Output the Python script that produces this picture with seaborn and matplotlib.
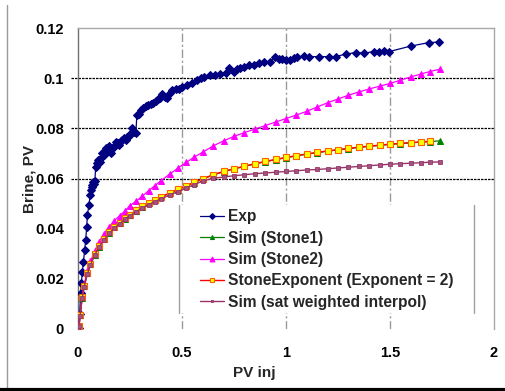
import numpy as np
import pandas as pd
import matplotlib
matplotlib.use("Agg")
import matplotlib.pyplot as plt
from matplotlib.lines import Line2D
from matplotlib.patches import Rectangle
from matplotlib.ticker import FormatStrFormatter
import seaborn as sns

# ---- measured brine production ----
exp_pv = [0, 0.005, 0.008, 0.013, 0.016, 0.021, 0.026, 0.032, 0.037, 0.042, 0.045,
          0.053, 0.058, 0.061, 0.066, 0.069, 0.074, 0.077, 0.081, 0.085, 0.090, 0.095,
          0.101, 0.108, 0.114, 0.120, 0.125, 0.133, 0.140, 0.145, 0.150, 0.157, 0.165,
          0.173, 0.181, 0.190, 0.198, 0.205, 0.213, 0.222, 0.230, 0.237, 0.245, 0.252,
          0.262, 0.270, 0.278, 0.283, 0.292, 0.302, 0.312, 0.326, 0.338, 0.350, 0.362,
          0.374, 0.385, 0.395, 0.406, 0.418, 0.430, 0.443, 0.454, 0.470, 0.485, 0.500,
          0.523, 0.548, 0.572, 0.590, 0.604, 0.636, 0.660, 0.684, 0.710, 0.724, 0.748,
          0.765, 0.780, 0.800, 0.820, 0.845, 0.870, 0.893, 0.925, 0.949, 0.968, 0.982,
          1.000, 1.020, 1.040, 1.054, 1.086, 1.110, 1.158, 1.206, 1.239, 1.287, 1.335,
          1.375, 1.423, 1.447, 1.471, 1.496, 1.600, 1.688, 1.736]
exp_brine = [0, 0.0004, 0.006, 0.0142, 0.0182, 0.0229, 0.0268, 0.0315, 0.0355, 0.0408, 0.0455,
             0.0494, 0.0534, 0.0555, 0.0575, 0.0567, 0.0587, 0.0580, 0.0590, 0.0647, 0.0660, 0.0672,
             0.0674, 0.0665, 0.0700, 0.0688, 0.0694, 0.0720, 0.0705, 0.0712, 0.0728, 0.0700, 0.0722,
             0.0727, 0.0747, 0.0740, 0.0734, 0.0750, 0.0754, 0.0760, 0.0755, 0.0767, 0.0770, 0.0778,
             0.0800, 0.0786, 0.0780, 0.0853, 0.0858, 0.0873, 0.0880, 0.0889, 0.0893, 0.0896, 0.0902,
             0.0907, 0.0915, 0.0922, 0.0935, 0.0926, 0.0920, 0.0940, 0.0953, 0.0955, 0.0958, 0.0963,
             0.0973, 0.0982, 0.0993, 0.1000, 0.1006, 0.1013, 0.1012, 0.1017, 0.1022, 0.1040, 0.1026,
             0.1035, 0.1040, 0.1046, 0.1053, 0.1053, 0.1062, 0.1066, 0.1066, 0.1083, 0.1077, 0.1075,
             0.1074, 0.1073, 0.1080, 0.1083, 0.1089, 0.1086, 0.1086, 0.1086, 0.1086, 0.1096, 0.1102,
             0.1100, 0.1106, 0.1106, 0.1110, 0.1106, 0.1128, 0.1142, 0.1144]

# ---- simulated curves (shared injection grid) ----
sim_pv = [0, 0.005, 0.01, 0.02, 0.03, 0.045, 0.06, 0.08, 0.1, 0.125, 0.15, 0.175, 0.2,
          0.225, 0.25, 0.28, 0.31, 0.34, 0.37, 0.4, 0.44, 0.48, 0.52, 0.56, 0.6, 0.65,
          0.7, 0.75, 0.8, 0.85, 0.9, 0.95, 1.0, 1.05, 1.1, 1.15, 1.2, 1.25, 1.3, 1.35,
          1.4, 1.45, 1.5, 1.55, 1.6, 1.65, 1.69, 1.74]
stone1 = [0, 0.0012, 0.0055, 0.0125, 0.0172, 0.0222, 0.0258, 0.0297, 0.0328, 0.0358, 0.0384,
          0.0405, 0.0423, 0.0440, 0.0455, 0.0472, 0.0488, 0.0501, 0.0514, 0.0526, 0.0541,
          0.0556, 0.0570, 0.0584, 0.0598, 0.0614, 0.0627, 0.0638, 0.0648, 0.0658, 0.0667,
          0.0675, 0.0683, 0.0690, 0.0697, 0.0703, 0.0709, 0.0714, 0.0719, 0.0724, 0.0728,
          0.0732, 0.0736, 0.0739, 0.0742, 0.0745, 0.0747, 0.0750]
stone2 = [0, 0.0013, 0.0060, 0.0130, 0.0180, 0.0232, 0.0270, 0.0310, 0.0346, 0.0380, 0.0408,
          0.0432, 0.0452, 0.0470, 0.0492, 0.0510, 0.0530, 0.0552, 0.0572, 0.0592, 0.0617,
          0.0641, 0.0664, 0.0686, 0.0705, 0.0730, 0.0750, 0.0768, 0.0783, 0.0797, 0.0811,
          0.0825, 0.0839, 0.0853, 0.0868, 0.0885, 0.0902, 0.0917, 0.0932, 0.0945, 0.0957,
          0.0968, 0.0979, 0.0992, 0.1005, 0.1017, 0.1026, 0.1036]
stone_exp_pv = sim_pv[:-1]
stone_exp = [0, 0.0013, 0.0056, 0.0126, 0.0173, 0.0223, 0.0259, 0.0298, 0.0329, 0.0359, 0.0385,
             0.0406, 0.0424, 0.0441, 0.0456, 0.0473, 0.0489, 0.0502, 0.0515, 0.0527, 0.0542,
             0.0557, 0.0571, 0.0585, 0.0599, 0.0615, 0.0628, 0.0639, 0.0649, 0.0659, 0.0668,
             0.0676, 0.0684, 0.0691, 0.0698, 0.0704, 0.0710, 0.0715, 0.0720, 0.0725, 0.0729,
             0.0733, 0.0737, 0.0740, 0.0743, 0.0746, 0.0748]
sat_interp = [0, 0.0010, 0.0053, 0.0122, 0.0169, 0.0219, 0.0255, 0.0294, 0.0325, 0.0355, 0.0381,
              0.0402, 0.0420, 0.0437, 0.0452, 0.0468, 0.0483, 0.0496, 0.0508, 0.0519, 0.0534,
              0.0548, 0.0562, 0.0576, 0.0590, 0.0601, 0.0606, 0.0611, 0.0615, 0.0619, 0.0622,
              0.0625, 0.0628, 0.0631, 0.0634, 0.0636, 0.0639, 0.0642, 0.0645, 0.0648, 0.0651,
              0.0654, 0.0657, 0.0659, 0.0661, 0.0663, 0.0665, 0.0666]

x_ticks = [0, 0.5, 1, 1.5, 2]
y_ticks = [0, 0.02, 0.04, 0.06, 0.08, 0.1, 0.12]
y_grid = [0.06, 0.08, 0.1]
x_grid = [0.5, 1, 1.5]

sns.set_theme(style="white")
plt.rcParams["font.family"] = ["Liberation Sans", "DejaVu Sans"]
plt.rcParams["font.weight"] = "bold"

fig = plt.figure(figsize=(5.05, 3.91), dpi=100)
ax = fig.add_axes([78 / 505, 1 - 329 / 391, 416 / 505, 301 / 391])
ax.set_facecolor("white")

# reference lines
for v in x_grid:
    ax.axvline(v, color="#9a9a9a", lw=1.0, ls=(0, (6, 2, 1.5, 2)), zorder=1)
for v in y_grid:
    ax.plot([-0.035, 2], [v, v], color="black", lw=0.9, ls=(0, (2, 0.8)),
            clip_on=False, zorder=1)

series = [
    (exp_pv, exp_brine, "Exp", dict(color="#000080", marker="D", markersize=4.3,
                                    mfc="#000080", mec="#000080", lw=0.9)),
    (sim_pv, stone1, "Sim (Stone1)", dict(color="#008000", marker="^", markersize=4.2,
                                          mfc="#008000", mec="#008000", lw=0.9)),
    (sim_pv, stone2, "Sim (Stone2)", dict(color="#FF00FF", marker="^", markersize=5,
                                          mfc="#FF00FF", mec="#FF00FF", lw=0.9)),
    (stone_exp_pv, stone_exp, "StoneExponent (Exponent = 2)",
     dict(color="#FF0000", marker="s", markersize=3.8, mfc="#FFFF00", mec="#FF6000",
          mew=0.8, lw=1.0)),
    (sim_pv, sat_interp, "Sim (sat weighted interpol)",
     dict(color="#993366", marker="s", markersize=2.6, mfc="#A05580", mec="#993366",
          mew=0.6, lw=1.0)),
]
for xs, ys, lab, kw in series:
    df = pd.DataFrame({"pv": xs, "brine": ys})
    sns.lineplot(data=df, x="pv", y="brine", ax=ax, sort=False, estimator=None,
                 label=lab, zorder=3, **kw)

ax.set_xlim(0, 2)
ax.set_ylim(0, 0.12)
ax.set_xticks(x_ticks)
ax.set_yticks(y_ticks)
ax.xaxis.set_major_formatter(FormatStrFormatter("%g"))
ax.yaxis.set_major_formatter(FormatStrFormatter("%g"))
ax.tick_params(axis="x", length=3, width=1, color="#a0a0a0", pad=9,
               labelsize=10.5, labelcolor="black")
ax.tick_params(axis="y", length=0, pad=10, labelsize=10.5, labelcolor="black")
for t in ax.get_xticklabels() + ax.get_yticklabels():
    t.set_fontweight("bold")

ax.spines["bottom"].set_visible(False)
ax.spines["left"].set_color("#707070")
ax.spines["top"].set_color("#a8a8a8")
ax.spines["right"].set_color("#a8a8a8")
for s in ("left", "top", "right"):
    ax.spines[s].set_linewidth(1.0)

ax.set_xlabel("PV inj", fontsize=11, fontweight="bold")
ax.set_ylabel("Brine, PV", fontsize=11, fontweight="bold")
ax.xaxis.set_label_coords(0.425, -0.123)
ax.yaxis.set_label_coords(-0.099, 0.5)

# legend panel: white field with grey side edges
lx0, lx1, ly0, ly1 = 0.243, 0.952, 0.053, 0.412
ax.add_patch(Rectangle((lx0, ly0), lx1 - lx0, ly1 - ly0, transform=ax.transAxes,
                       facecolor="white", edgecolor="none", zorder=4))
for xe in (lx0, lx1):
    ax.plot([xe, xe], [ly0, ly1], transform=ax.transAxes, color="#a0a0a0",
            lw=1.0, zorder=5)
leg = ax.legend(loc="upper left", bbox_to_anchor=(0.293, 0.398), frameon=False,
                handlelength=1.55, handletextpad=0.28,
                labelspacing=0.41, borderpad=0, borderaxespad=0,
                markerscale=0.7, prop={"weight": "bold", "size": 11.2})
leg.set_zorder(6)

# chart-area border (left edge and bottom shadow)
fig.add_artist(Line2D([7 / 505, 7 / 505], [2 / 391, 1 - 5 / 391], color="#9a9a9a",
                      lw=1.0, transform=fig.transFigure))
fig.add_artist(Line2D([0, 1], [1.5 / 391, 1.5 / 391], color="black", lw=3,
                      transform=fig.transFigure))

fig.savefig("out.png", dpi=100, facecolor="white")
